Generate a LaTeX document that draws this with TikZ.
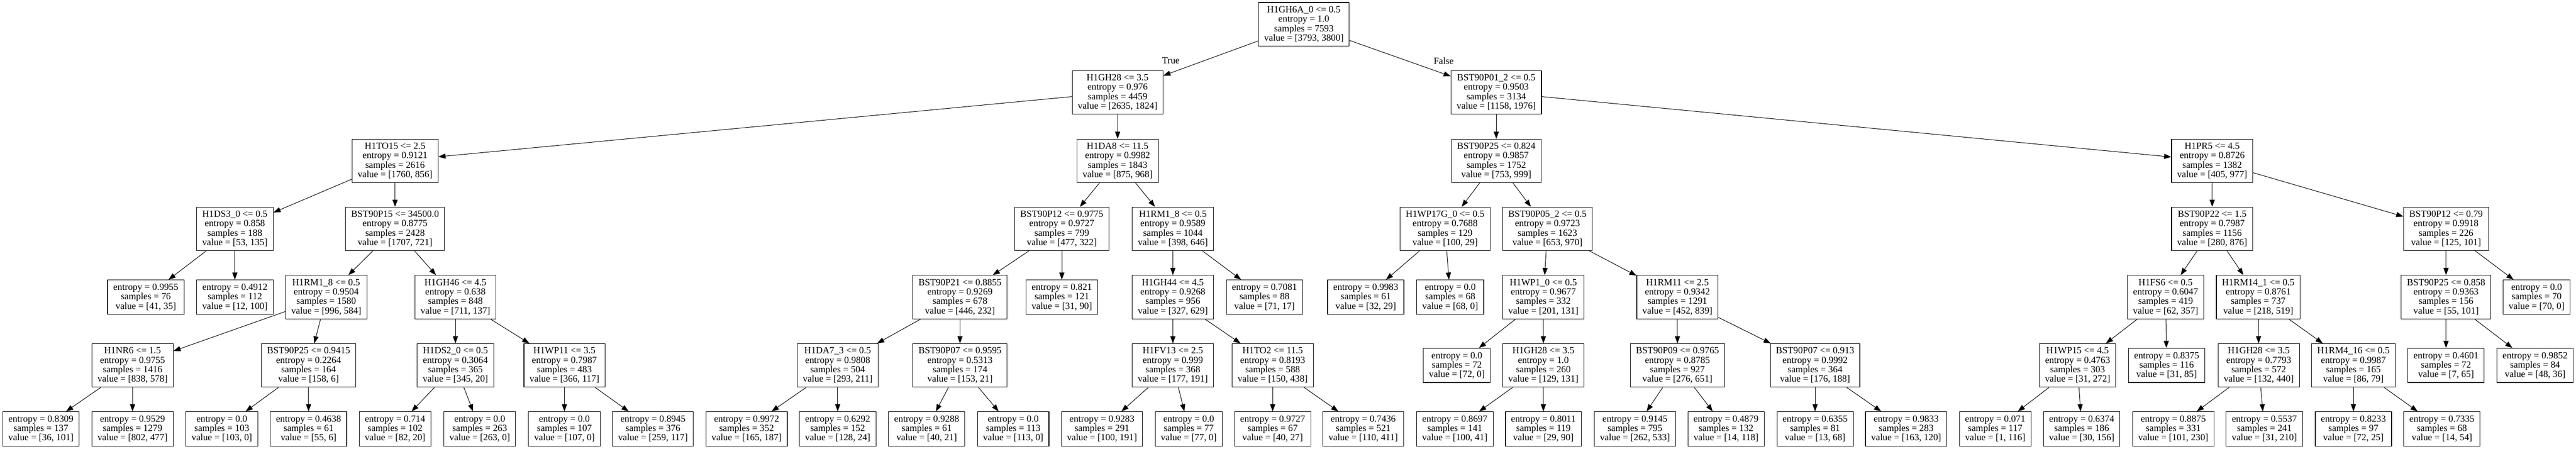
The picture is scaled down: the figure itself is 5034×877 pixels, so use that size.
\documentclass[tikz,border=0pt]{standalone}
\usepackage{fontspec}
\setmainfont{Liberation Serif}
\usetikzlibrary{arrows.meta}

\begin{document}
\begin{tikzpicture}[x=1pt, y=-1pt,
  split/.style={draw, line width=1.1pt, align=center, inner xsep=11pt, inner ysep=2pt,
    minimum height=85pt, font=\fontsize{18.5}{18.5}\selectfont},
  leaf/.style={split, minimum height=67pt},
  branch/.style={line width=1pt, -{Triangle[length=14pt,width=10pt]}},
  lbl/.style={font=\fontsize{18.5}{18.5}\selectfont}]
  \useasboundingbox (0,0) rectangle (5034,877);% page frame
  % root and first split
  \node[split] (n0) at (2548,47.5) {H1GH6A\_0 <= 0.5\\entropy = 1.0\\samples = 7593\\value = [3793, 3800]};
  \node[split] (n1) at (2184,180.5) {H1GH28 <= 3.5\\entropy = 0.976\\samples = 4459\\value = [2635, 1824]};
  \node[split] (n40) at (2924,180.5) {BST90P01\_2 <= 0.5\\entropy = 0.9503\\samples = 3134\\value = [1158, 1976]};
  % depth 2
  \node[split] (n2) at (772,314.5) {H1TO15 <= 2.5\\entropy = 0.9121\\samples = 2616\\value = [1760, 856]};
  \node[split] (n21) at (2184,314.5) {H1DA8 <= 11.5\\entropy = 0.9982\\samples = 1843\\value = [875, 968]};
  \node[split] (n41) at (2924,314.5) {BST90P25 <= 0.824\\entropy = 0.9857\\samples = 1752\\value = [753, 999]};
  \node[split] (n58) at (4323,314.5) {H1PR5 <= 4.5\\entropy = 0.8726\\samples = 1382\\value = [405, 977]};
  % depth 3
  \node[split] (n3) at (459,447.5) {H1DS3\_0 <= 0.5\\entropy = 0.858\\samples = 188\\value = [53, 135]};
  \node[split] (n6) at (772,447.5) {BST90P15 <= 34500.0\\entropy = 0.8775\\samples = 2428\\value = [1707, 721]};
  \node[split] (n22) at (2075,447.5) {BST90P12 <= 0.9775\\entropy = 0.9727\\samples = 799\\value = [477, 322]};
  \node[split] (n31) at (2292,447.5) {H1RM1\_8 <= 0.5\\entropy = 0.9589\\samples = 1044\\value = [398, 646]};
  \node[split] (n42) at (2824,447.5) {H1WP17G\_0 <= 0.5\\entropy = 0.7688\\samples = 129\\value = [100, 29]};
  \node[split] (n45) at (3024,447.5) {BST90P05\_2 <= 0.5\\entropy = 0.9723\\samples = 1623\\value = [653, 970]};
  \node[split] (n59) at (4323,447.5) {BST90P22 <= 1.5\\entropy = 0.7987\\samples = 1156\\value = [280, 876]};
  \node[split] (n72) at (4780,447.5) {BST90P12 <= 0.79\\entropy = 0.9918\\samples = 226\\value = [125, 101]};
  % depth 4
  \node[leaf] (n4) at (285,581) {entropy = 0.9955\\samples = 76\\value = [41, 35]};
  \node[leaf] (n5) at (459,581) {entropy = 0.4912\\samples = 112\\value = [12, 100]};
  \node[split] (n7) at (637.5,581) {H1RM1\_8 <= 0.5\\entropy = 0.9504\\samples = 1580\\value = [996, 584]};
  \node[split] (n14) at (890,581) {H1GH46 <= 4.5\\entropy = 0.638\\samples = 848\\value = [711, 137]};
  \node[split] (n23) at (1876,581) {BST90P21 <= 0.8855\\entropy = 0.9269\\samples = 678\\value = [446, 232]};
  \node[leaf] (n30) at (2075,581) {entropy = 0.821\\samples = 121\\value = [31, 90]};
  \node[split] (n32) at (2292,581) {H1GH44 <= 4.5\\entropy = 0.9268\\samples = 956\\value = [327, 629]};
  \node[leaf] (n39) at (2471,581) {entropy = 0.7081\\samples = 88\\value = [71, 17]};
  \node[leaf] (n43) at (2669,581) {entropy = 0.9983\\samples = 61\\value = [32, 29]};
  \node[leaf] (n44) at (2834,581) {entropy = 0.0\\samples = 68\\value = [68, 0]};
  \node[split] (n46) at (3016,581) {H1WP1\_0 <= 0.5\\entropy = 0.9677\\samples = 332\\value = [201, 131]};
  \node[split] (n51) at (3278,581) {H1RM11 <= 2.5\\entropy = 0.9342\\samples = 1291\\value = [452, 839]};
  \node[split] (n60) at (4232,581) {H1FS6 <= 0.5\\entropy = 0.6047\\samples = 419\\value = [62, 357]};
  \node[split] (n65) at (4413,581) {H1RM14\_1 <= 0.5\\entropy = 0.8761\\samples = 737\\value = [218, 519]};
  \node[split] (n73) at (4780,581) {BST90P25 <= 0.858\\entropy = 0.9363\\samples = 156\\value = [55, 101]};
  \node[leaf] (n76) at (4957,581) {entropy = 0.0\\samples = 70\\value = [70, 0]};
  % depth 5
  \node[split] (n8) at (259,714.5) {H1NR6 <= 1.5\\entropy = 0.9755\\samples = 1416\\value = [838, 578]};
  \node[split] (n11) at (603,714.5) {BST90P25 <= 0.9415\\entropy = 0.2264\\samples = 164\\value = [158, 6]};
  \node[split] (n15) at (890,714.5) {H1DS2\_0 <= 0.5\\entropy = 0.3064\\samples = 365\\value = [345, 20]};
  \node[split] (n18) at (1103,714.5) {H1WP11 <= 3.5\\entropy = 0.7987\\samples = 483\\value = [366, 117]};
  \node[split] (n24) at (1637,714.5) {H1DA7\_3 <= 0.5\\entropy = 0.9808\\samples = 504\\value = [293, 211]};
  \node[split] (n27) at (1876,714.5) {BST90P07 <= 0.9595\\entropy = 0.5313\\samples = 174\\value = [153, 21]};
  \node[split] (n33) at (2292,714.5) {H1FV13 <= 2.5\\entropy = 0.999\\samples = 368\\value = [177, 191]};
  \node[split] (n36) at (2487,714.5) {H1TO2 <= 11.5\\entropy = 0.8193\\samples = 588\\value = [150, 438]};
  \node[leaf] (n47) at (2847,714.5) {entropy = 0.0\\samples = 72\\value = [72, 0]};
  \node[split] (n48) at (3016,714.5) {H1GH28 <= 3.5\\entropy = 1.0\\samples = 260\\value = [129, 131]};
  \node[split] (n52) at (3278,714.5) {BST90P09 <= 0.9765\\entropy = 0.8785\\samples = 927\\value = [276, 651]};
  \node[split] (n55) at (3547,714.5) {BST90P07 <= 0.913\\entropy = 0.9992\\samples = 364\\value = [176, 188]};
  \node[split] (n61) at (4060,714.5) {H1WP15 <= 4.5\\entropy = 0.4763\\samples = 303\\value = [31, 272]};
  \node[leaf] (n64) at (4234,714.5) {entropy = 0.8375\\samples = 116\\value = [31, 85]};
  \node[split] (n66) at (4414,714.5) {H1GH28 <= 3.5\\entropy = 0.7793\\samples = 572\\value = [132, 440]};
  \node[split] (n69) at (4599,714.5) {H1RM4\_16 <= 0.5\\entropy = 0.9987\\samples = 165\\value = [86, 79]};
  \node[leaf] (n74) at (4780,714.5) {entropy = 0.4601\\samples = 72\\value = [7, 65]};
  \node[leaf] (n75) at (4954,714.5) {entropy = 0.9852\\samples = 84\\value = [48, 36]};
  % depth 6
  \node[leaf] (n9) at (80,838.5) {entropy = 0.8309\\samples = 137\\value = [36, 101]};
  \node[leaf] (n10) at (259,838.5) {entropy = 0.9529\\samples = 1279\\value = [802, 477]};
  \node[leaf] (n12) at (433.5,838.5) {entropy = 0.0\\samples = 103\\value = [103, 0]};
  \node[leaf] (n13) at (603,838.5) {entropy = 0.4638\\samples = 61\\value = [55, 6]};
  \node[leaf] (n16) at (772,838.5) {entropy = 0.714\\samples = 102\\value = [82, 20]};
  \node[leaf] (n17) at (937.5,838.5) {entropy = 0.0\\samples = 263\\value = [263, 0]};
  \node[leaf] (n19) at (1103,838.5) {entropy = 0.0\\samples = 107\\value = [107, 0]};
  \node[leaf] (n20) at (1276,838.5) {entropy = 0.8945\\samples = 376\\value = [259, 117]};
  \node[leaf] (n25) at (1459,838.5) {entropy = 0.9972\\samples = 352\\value = [165, 187]};
  \node[leaf] (n26) at (1637,838.5) {entropy = 0.6292\\samples = 152\\value = [128, 24]};
  \node[leaf] (n28) at (1811,838.5) {entropy = 0.9288\\samples = 61\\value = [40, 21]};
  \node[leaf] (n29) at (1980,838.5) {entropy = 0.0\\samples = 113\\value = [113, 0]};
  \node[leaf] (n34) at (2153.5,838.5) {entropy = 0.9283\\samples = 291\\value = [100, 191]};
  \node[leaf] (n35) at (2323,838.5) {entropy = 0.0\\samples = 77\\value = [77, 0]};
  \node[leaf] (n37) at (2487,838.5) {entropy = 0.9727\\samples = 67\\value = [40, 27]};
  \node[leaf] (n38) at (2664,838.5) {entropy = 0.7436\\samples = 521\\value = [110, 411]};
  \node[leaf] (n49) at (2843,838.5) {entropy = 0.8697\\samples = 141\\value = [100, 41]};
  \node[leaf] (n50) at (3016,838.5) {entropy = 0.8011\\samples = 119\\value = [29, 90]};
  \node[leaf] (n53) at (3195,838.5) {entropy = 0.9145\\samples = 795\\value = [262, 533]};
  \node[leaf] (n54) at (3373,838.5) {entropy = 0.4879\\samples = 132\\value = [14, 118]};
  \node[leaf] (n56) at (3547,838.5) {entropy = 0.6355\\samples = 81\\value = [13, 68]};
  \node[leaf] (n57) at (3725,838.5) {entropy = 0.9833\\samples = 283\\value = [163, 120]};
  \node[leaf] (n62) at (3899,838.5) {entropy = 0.071\\samples = 117\\value = [1, 116]};
  \node[leaf] (n63) at (4068,838.5) {entropy = 0.6374\\samples = 186\\value = [30, 156]};
  \node[leaf] (n67) at (4247,838.5) {entropy = 0.8875\\samples = 331\\value = [101, 230]};
  \node[leaf] (n68) at (4425,838.5) {entropy = 0.5537\\samples = 241\\value = [31, 210]};
  \node[leaf] (n70) at (4599,838.5) {entropy = 0.8233\\samples = 97\\value = [72, 25]};
  \node[leaf] (n71) at (4772,838.5) {entropy = 0.7335\\samples = 68\\value = [14, 54]};
  % branches
  \draw[branch] (n0) -- node[lbl, pos=0.5, xshift=-78pt, yshift=-4.5pt] {True} (n1);
  \draw[branch] (n0) -- node[lbl, pos=0.5, xshift=85pt, yshift=-5pt] {False} (n40);
  \foreach \a/\b in {1/2, 1/21, 2/3, 2/6, 3/4, 3/5, 6/7, 6/14, 7/8, 7/11, 8/9, 8/10,
      11/12, 11/13, 14/15, 14/18, 15/16, 15/17, 18/19, 18/20, 21/22, 21/31, 22/23, 22/30,
      23/24, 23/27, 24/25, 24/26, 27/28, 27/29, 31/32, 31/39, 32/33, 32/36, 33/34, 33/35,
      36/37, 36/38, 40/41, 40/58, 41/42, 41/45, 42/43, 42/44, 45/46, 45/51, 46/47, 46/48,
      48/49, 48/50, 51/52, 51/55, 52/53, 52/54, 55/56, 55/57, 58/59, 58/72, 59/60, 59/65,
      60/61, 60/64, 61/62, 61/63, 65/66, 65/69, 66/67, 66/68, 69/70, 69/71, 72/73, 72/76,
      73/74, 73/75}
    \draw[branch] (n\a) -- (n\b);
\end{tikzpicture}
\end{document}
